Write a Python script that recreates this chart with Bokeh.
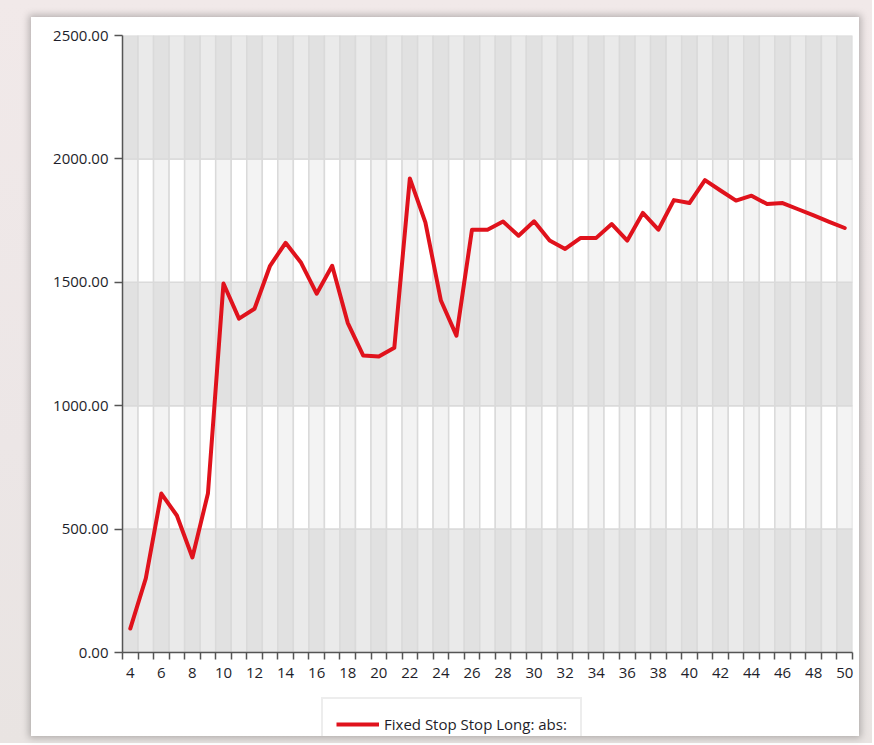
from bokeh.plotting import figure
from bokeh.models import FixedTicker, PrintfTickFormatter, Legend, LegendItem, Range1d
from bokeh.layouts import column
from bokeh.embed import file_html
from bokeh.resources import INLINE

# ---- data ----
x_values = list(range(4, 51))
y_values = [97, 300, 644, 555, 385, 644, 1495, 1353, 1393, 1567, 1660, 1579, 1454,
            1567, 1336, 1203, 1199, 1235, 1921, 1743, 1426, 1284, 1713, 1713, 1746,
            1689, 1747, 1669, 1635, 1680, 1680, 1736, 1669, 1781, 1713, 1833, 1821,
            1914, 1872, 1831, 1851, 1817, 1821, 1796, 1771, 1745, 1720]
y_ticks = [0, 500, 1000, 1500, 2000, 2500]
x_label_ticks = list(range(4, 51, 2))
series_name = "Fixed Stop Stop Long: abs:"

FONT = "Open Sans"
LINE_COLOR = "#e0121c"
TEXT_COLOR = "#1e1e2a"
AXIS_COLOR = "#555555"

p = figure(width=828, height=680, output_backend="svg", toolbar_location=None,
           x_range=Range1d(x_values[0] - 0.5, x_values[-1] + 0.5),
           y_range=Range1d(y_ticks[0], y_ticks[-1]),
           min_border_left=91, min_border_top=18, min_border_right=7, min_border_bottom=45,
           background_fill_color="white", border_fill_color="white",
           outline_line_color=None)

# ---- striped background cells ----
left, right, bottom, top, colors = [], [], [], [], []
for zi in range(len(y_ticks) - 1):
    dark_zone = (zi % 2 == 0)
    for k in x_values:
        left.append(k - 0.5)
        right.append(k + 0.5)
        bottom.append(y_ticks[zi])
        top.append(y_ticks[zi + 1])
        even = (k % 2 == 0)
        if dark_zone:
            colors.append("#e1e1e1" if even else "#eaeaea")
        else:
            colors.append("#f3f3f3" if even else "#ffffff")
p.quad(left=left, right=right, bottom=bottom, top=top, fill_color=colors,
       line_color="#dadada", line_width=1.5)

# ---- series ----
p.line(x_values, y_values, line_color=LINE_COLOR, line_width=4,
       line_join="round", line_cap="round")

p.xgrid.visible = False
p.ygrid.visible = False

# ---- axes ----
xa = p.xaxis[0]
xa.ticker = FixedTicker(ticks=x_label_ticks,
                        minor_ticks=[k - 0.5 for k in x_values] + [x_values[-1] + 0.5])
xa.major_tick_out = 0
xa.major_tick_in = 0
xa.minor_tick_out = 7
xa.minor_tick_in = 0
xa.minor_tick_line_color = AXIS_COLOR
xa.minor_tick_line_width = 1.5
xa.axis_line_color = AXIS_COLOR
xa.axis_line_width = 1.5
xa.major_label_text_font = FONT
xa.major_label_text_font_size = "15px"
xa.major_label_text_color = TEXT_COLOR
xa.major_label_standoff = 8

ya = p.yaxis[0]
ya.ticker = FixedTicker(ticks=y_ticks, minor_ticks=[])
ya.formatter = PrintfTickFormatter(format="%.2f")
ya.major_tick_out = 8
ya.major_tick_in = 0
ya.minor_tick_out = 0
ya.major_tick_line_color = AXIS_COLOR
ya.major_tick_line_width = 1.5
ya.axis_line_color = AXIS_COLOR
ya.axis_line_width = 1.5
ya.major_label_text_font = FONT
ya.major_label_text_font_size = "15px"
ya.major_label_text_color = TEXT_COLOR
ya.major_label_standoff = 6

# ---- legend strip (separate small figure under the chart) ----
lf = figure(width=828, height=39, output_backend="svg", toolbar_location=None,
            x_range=Range1d(0, 1), y_range=Range1d(0, 1),
            min_border_left=0, min_border_right=0, min_border_top=0, min_border_bottom=0,
            background_fill_color="white", border_fill_color="white",
            outline_line_color=None)
lf.axis.visible = False
lf.grid.visible = False
# same series, lies outside this strip's ranges (only its style feeds the legend key)
lr = lf.line(x_values, y_values, line_color=LINE_COLOR, line_width=4)
legend = Legend(items=[LegendItem(label=series_name, renderers=[lr])],
                location=(199, -15), orientation="horizontal",
                glyph_width=43, glyph_height=24, label_standoff=5,
                label_text_font=FONT, label_text_font_size="15px",
                label_text_color=TEXT_COLOR,
                border_line_color="#dcdcdc", border_line_width=2,
                padding=13, margin=0, background_fill_color="white")
lf.add_layout(legend)

card = column(p, lf, spacing=0,
              styles={"background": "white", "box-shadow": "0 0 7px 2px rgba(0,0,0,0.25)"})
layout = column(card, styles={"background": "linear-gradient(180deg, #f1e9e9 0%, #ece6e6 60%, #e9e4e2 100%)",
                              "padding": "17px 13px 7px 31px"})

open("out.html", "w").write(file_html(layout, INLINE))
